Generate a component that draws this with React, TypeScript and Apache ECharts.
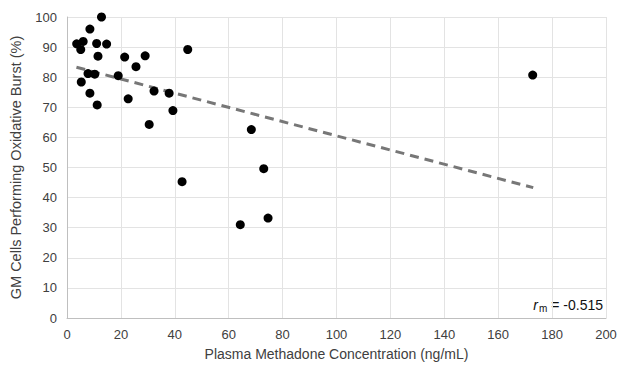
import React, { useEffect, useRef } from "react";
import * as echarts from "echarts";

const concentration = [
  12.8, 8.5, 3.6, 6.0, 5.1, 11.0, 14.7, 11.5, 21.4, 7.8, 10.3, 19.0, 5.3, 8.5, 11.2,
  22.7, 29.0, 44.8, 25.6, 32.3, 37.9, 39.3, 30.5, 68.4, 73.0, 42.7, 64.3, 74.6, 172.8,
];
const burstPct = [
  100, 96, 91.1, 91.9, 89.2, 91.2, 91, 87, 86.7, 81.2, 81, 80.5, 78.4, 74.7, 70.8,
  72.8, 87.1, 89.2, 83.5, 75.4, 74.7, 68.9, 64.3, 62.6, 49.6, 45.3, 31, 33.2, 80.7,
];
const trendX = [3.5, 173];
const trendY = [83.3, 43.3];
const xTitle = "Plasma Methadone Concentration (ng/mL)";
const yTitle = "GM Cells Performing Oxidative Burst (%)";
const rmValue = "-0.515";

export default function App() {
  const ref = useRef<HTMLDivElement>(null);
  useEffect(() => {
    if (!ref.current) return;
    const chart = echarts.init(ref.current, undefined, { renderer: "svg" });
    const font = "'Liberation Sans', Arial, sans-serif";
    chart.setOption({
      animation: false,
      backgroundColor: "#ffffff",
      textStyle: { fontFamily: font },
      grid: { left: 66, right: 22, top: 17, bottom: 44, containLabel: false },
      xAxis: {
        type: "value",
        min: 0,
        max: 200,
        interval: 20,
        name: xTitle,
        nameLocation: "middle",
        nameGap: 29,
        nameTextStyle: { fontSize: 14, color: "#404040", fontFamily: font },
        axisLine: { show: true, lineStyle: { color: "#bfbfbf", width: 1 } },
        axisTick: { show: false },
        axisLabel: { fontSize: 13, color: "#404040", margin: 10, fontFamily: font },
        splitLine: { show: true, lineStyle: { color: "#e3e3e3", width: 1 } },
      },
      yAxis: {
        type: "value",
        min: 0,
        max: 100,
        interval: 10,
        name: yTitle,
        nameLocation: "middle",
        nameGap: 44,
        nameRotate: 90,
        nameTextStyle: { fontSize: 14.5, color: "#404040", fontFamily: font },
        axisLine: { show: true, lineStyle: { color: "#bfbfbf", width: 1 } },
        axisTick: { show: false },
        axisLabel: { fontSize: 13, color: "#404040", margin: 10, fontFamily: font },
        splitLine: { show: true, lineStyle: { color: "#e3e3e3", width: 1 } },
      },
      series: [
        {
          type: "line",
          data: trendX.map((x, i) => [x, trendY[i]]),
          showSymbol: false,
          symbol: "none",
          lineStyle: { color: "#777777", width: 3, type: [9, 6] },
          silent: true,
          z: 1,
        },
        {
          type: "scatter",
          data: concentration.map((x, i) => [x, burstPct[i]]),
          symbol: "circle",
          symbolSize: 9,
          itemStyle: { color: "#000000", opacity: 1 },
          z: 2,
        },
      ],
      graphic: [
        {
          type: "text",
          right: 25,
          top: 298,
          style: {
            text: "{r|r}{m|m}{v| = " + rmValue + "}",
            rich: {
              r: { fontSize: 14, fontStyle: "italic", fontWeight: "normal", fill: "#111", fontFamily: font },
              m: { fontSize: 10, fontWeight: "normal", fill: "#111", fontFamily: font, padding: [6, 0, 0, 1] },
              v: { fontSize: 14, fontWeight: "normal", fill: "#111", fontFamily: font },
            },
          },
        },
      ],
    });
    return () => chart.dispose();
  }, []);
  return (
    <div
      ref={ref}
      style={{ position: "fixed", left: 0, top: 0, width: 628, height: 366 }}
    />
  );
}
